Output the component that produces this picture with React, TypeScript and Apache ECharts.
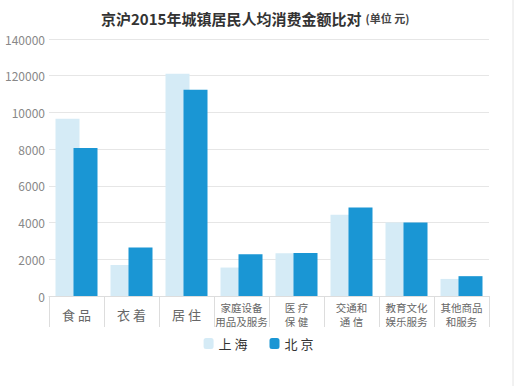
import React, { useEffect, useRef } from "react";
import * as echarts from "echarts";

const categories = ["食 品", "衣 着", "居 住", "家庭设备\n用品及服务", "医 疗\n保 健", "交通和\n通 信", "教育文化\n娱乐服务", "其他商品\n和服务"];
const shanghai = [9650, 1690, 12110, 1550, 2330, 4420, 4000, 930];
const beijing = [8060, 2640, 11240, 2280, 2340, 4820, 4000, 1080];
const yTickLabels = ["0", "2000", "4000", "6000", "8000", "10000", "120000", "140000"];

export default function App() {
  const ref = useRef<HTMLDivElement>(null);
  useEffect(() => {
    const chart = echarts.init(ref.current!, null, { renderer: "svg" });
    const font = "'Noto Sans CJK SC', 'Noto Sans', sans-serif";
    chart.setOption({
      animation: false,
      textStyle: { fontFamily: font },
      title: {
        text: "{a|京沪2015年城镇居民人均消费金额比对} {b|(单位 元)}",
        left: 96,
        top: 4,
        textStyle: {
          rich: {
            a: { fontSize: 15, fontWeight: "bold", color: "#333", fontFamily: font },
            b: { fontSize: 11, fontWeight: "bold", color: "#444", fontFamily: font },
          },
        },
      },
      legend: {
        bottom: 31,
        left: "center",
        itemWidth: 10,
        itemHeight: 11,
        itemGap: 22,
        textStyle: { fontSize: 13, color: "#333", fontFamily: font },
        data: [{ name: "上 海" }, { name: "北 京" }],
      },
      grid: { left: 49, right: 28, top: 39, bottom: 90 },
      xAxis: {
        type: "category",
        data: categories,
        axisLine: { show: true, lineStyle: { color: "#ddd" } },
        axisTick: { show: true, length: 31, interval: 0, lineStyle: { color: "#ddd" } },
        axisLabel: {
          interval: 0,
          margin: 4,
          fontFamily: font,
          formatter: (v: string) => (v.indexOf("\n") >= 0 ? v.split("\n").map((s) => "{d|" + s + "}").join("\n") : "{s|" + v + "}"),
          rich: {
            s: { fontSize: 13, color: "#666", padding: [8, 0, 0, 0], fontFamily: font },
            d: { fontSize: 10.5, lineHeight: 14, color: "#666", fontFamily: font },
          },
        },
      },
      yAxis: {
        type: "value",
        min: 0,
        max: 14000,
        interval: 2000,
        axisLine: { show: false },
        axisTick: { show: false },
        splitLine: { lineStyle: { color: "#e6e6e6" } },
        axisLabel: {
          color: "#888",
          fontSize: 12,
          margin: 4,
          fontFamily: font,
          formatter: (v: number) => yTickLabels[Math.round(v / 2000)] ?? "",
        },
      },
      series: [
        { name: "上 海", type: "bar", data: shanghai, barWidth: 24, barGap: "-25%", itemStyle: { color: "#d5ebf6" } },
        { name: "北 京", type: "bar", data: beijing, barWidth: 24, barGap: "-25%", itemStyle: { color: "#1a96d4" } },
      ],
      graphic: [
        { type: "line", shape: { x1: 513, y1: 0, x2: 513, y2: 386 }, style: { stroke: "#e4e4e4", lineWidth: 1 } },
      ],
    });
    return () => chart.dispose();
  }, []);
  return <div ref={ref} style={{ width: 517, height: 386, position: "absolute", left: 0, top: 0, background: "#fff" }} />;
}
